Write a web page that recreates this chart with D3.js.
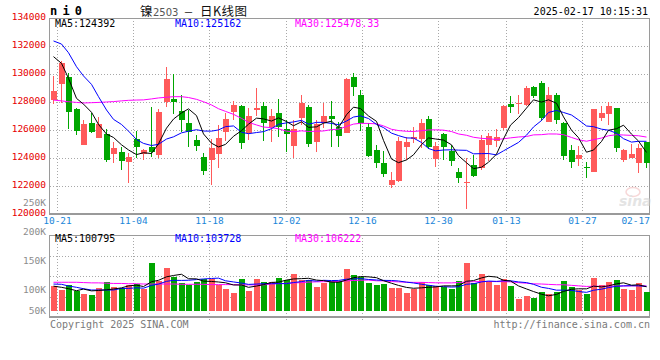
<!DOCTYPE html>
<html><head><meta charset="utf-8">
<script src="https://cdn.jsdelivr.net/npm/d3@7"></script>
<style>
body{margin:0;background:#fff}
svg{display:block}
text{font-family:"DejaVu Sans Mono",monospace}
</style>
</head><body>
<svg id="c" width="660" height="360"></svg>
<script>
// ---------------- data ----------------
const opens = [128119,129310,129786,127500,124952,126500,125452,125714,124309,124428,
123738,125357,124262,124809,124214,127976,128214,127381,126500,125286,
124048,123857,124286,125881,127309,127714,125762,127429,127690,126238,
127238,126071,124881,126881,127643,125167,126476,127000,126238,125810,
129810,128500,126238,124571,123667,122071,122357,124810,125400,125333,
126786,123952,125690,124524,123000,122190,123500,123262,124929,125214,
126119,127857,127833,127810,129071,129381,126595,128500,126524,124571,
123952,123381,123024,126857,127167,127571,123857,124024,123667,125119];
const highs = [129881,130929,130095,127550,126714,127190,126905,126071,125119,124809,
124333,125929,124643,127619,127524,130524,129976,128500,127400,125643,
124357,125333,126381,127200,128095,127762,127595,128976,128024,127500,
128214,126714,126714,128500,127786,126714,127952,128095,126595,129738,
130048,128857,126476,124929,124524,123024,125524,125524,126238,126786,
127024,125119,125762,124929,123262,123976,124214,125643,125810,126071,
127786,128429,128500,129143,129143,129524,129095,128619,126595,124929,
124881,123738,127524,127714,128024,127571,124643,125000,125000,125119];
const lows = [127881,127905,126048,125643,124900,125762,125400,123738,123619,123167,
122238,124024,123833,124095,124000,127667,127119,125881,124809,124524,
122786,122095,123300,125214,126700,124619,125286,127000,125238,125167,
125524,124428,124024,126357,124810,124452,126119,124810,124810,125762,
128452,125929,124100,123310,122643,121833,122310,123857,125048,124690,
124667,123381,123857,123429,122238,120357,122667,123119,123810,124810,
126000,127238,127119,127738,128300,126667,126595,126405,123857,123262,
123429,122595,123024,126643,126357,124405,123738,123976,122952,123262];
const closes = [128786,130786,127309,125929,126428,125881,126428,123881,124714,123810,
124048,124762,124548,124428,127286,129643,128000,126738,125881,124881,
123095,124690,125405,126786,127786,125095,127000,127571,126524,127000,
126238,125690,126071,127929,125024,126405,127000,126810,125595,129643,
129095,126524,124167,123667,122833,122429,125238,125143,125500,126476,
124810,124857,124762,123810,122595,122286,122738,125286,125572,125500,
127714,127667,127952,129000,128452,126881,128500,126714,124143,123690,
124214,123310,127476,127214,127714,124738,124571,124286,124738,123667];
const volumes = [102600,96200,104300,94500,88800,87100,99700,110000,101400,98600,
104300,106000,97900,142800,111200,134100,117600,108300,104300,110000,
114700,114700,103800,97400,91000,114700,94500,114700,110000,110000,
116900,112900,123800,112900,112900,101400,108300,111200,111200,131900,
121600,118600,108300,104300,106000,99700,99700,91000,96900,110000,
104300,102600,100300,96900,111200,142800,108300,123300,111200,104300,
114700,102600,80700,85300,81900,91700,88800,92800,111200,100300,
95700,88300,116400,104300,109500,112900,97400,95700,107800,92200];

const ma5Lead  = [131240,130760,129690,128260];
const ma10Lead = [132360,132140,131520,130520,129860,129260,128380,127430,126760];
const ma30Lead = [128140,128080,128020,127970,127930,127950,127970,128000,128030,128080,
128120,128140,128150,128220,128290,128340,128380,128380,128320,128190,
128020,127790,127520,127330,127120,126830,126550,126360,126210];
const vma5Lead  = [102300,100300,97900,94500];
const vma10Lead = [105900,105500,102600,100300,97900,95700,95700,95700,95700];
const vma30Lead = [109000,109000,109000,109000,108500,108000,108000,107500,107000,107000,
106500,106500,106000,106000,106000,106000,106000,105500,105500,105500,
105500,105000,105000,105000,105000,104500,104500,104500,104500];

const priceTicks = [120000,122000,124000,126000,128000,130000,132000,134000];
const volTicks = [50000,100000,150000,200000,250000];
const volTickLabels = ["50K","100K","150K","200K","250K"];
const dateLabels = ["10-21","11-04","11-18","12-02","12-16","12-30","01-13","01-27"];
const dateSlots  = [0.97,11.1,21.25,31.4,41.55,51.7,60.75,70.9];
const lastDateLabel = "02-17";
const priceMaLabels = ["MA5:124392","MA10:125162","MA30:125478.33"];
const volMaLabels = ["MA5:100795","MA10:103728","MA30:106222"];
const maColors = ["#000000","#0000ff","#ff00ff"];

// ---------------- layout ----------------
const L = 50, R = 650, mTop = 18, mBot = 214, vTop = 235, vBot = 317;
const RED = "#ff5a5a", GREEN = "#00a600", GRID = "#a8a8a8", AXIS = "#9a9a9a";
const svg = d3.select("#c");
const n = closes.length;
const x = d3.scaleLinear().domain([0, 80]).range([L, R]);
const y = d3.scaleLinear().domain([120000, 134000]).range([mBot, mTop]);
const yv = d3.scaleLinear().domain([60000, 200000]).range([310.7, 229.5]);
const bx = i => Math.round(x(i));

function ma(arr, k, lead) {
  return arr.map((v, i) => i < k - 1 ? lead[i] : d3.mean(arr.slice(i - k + 1, i + 1)));
}
const up = i => closes[i] >= opens[i];

// ---------------- grid ----------------
const g = svg.append("g").attr("shape-rendering", "crispEdges");
g.selectAll(".hp").data(priceTicks.slice(1, -1)).join("line")
  .attr("x1", L).attr("x2", R).attr("y1", d => Math.round(y(d)) + 0.5).attr("y2", d => Math.round(y(d)) + 0.5)
  .attr("stroke", GRID).attr("stroke-dasharray", "1,2");
g.selectAll(".vg1").data(dateSlots).join("line")
  .attr("x1", d => Math.round(x(d)) + 0.5).attr("x2", d => Math.round(x(d)) + 0.5)
  .attr("y1", mTop).attr("y2", mBot).attr("stroke", GRID).attr("stroke-dasharray", "1,2");
g.selectAll(".vg2").data(dateSlots).join("line")
  .attr("x1", d => Math.round(x(d)) + 0.5).attr("x2", d => Math.round(x(d)) + 0.5)
  .attr("y1", vTop).attr("y2", vBot + 5).attr("stroke", GRID).attr("stroke-dasharray", "1,2");
g.selectAll(".hv").data([1, 2, 3]).join("line")
  .attr("x1", L).attr("x2", R)
  .attr("y1", k => Math.round(vTop + k * (vBot - vTop) / 4) + 0.5)
  .attr("y2", k => Math.round(vTop + k * (vBot - vTop) / 4) + 0.5)
  .attr("stroke", GRID).attr("stroke-dasharray", "1,2");

[[mTop, mBot], [vTop, vBot]].forEach(([t, b]) => {
  g.append("line").attr("x1", L).attr("x2", R).attr("y1", t + 0.5).attr("y2", t + 0.5).attr("stroke", AXIS);
  g.append("line").attr("x1", R - 0.5).attr("x2", R - 0.5).attr("y1", t).attr("y2", b).attr("stroke", AXIS);
  g.append("line").attr("x1", L).attr("x2", R).attr("y1", b).attr("y2", b).attr("stroke", AXIS).attr("stroke-width", 2);
  g.append("line").attr("x1", L - 0.5).attr("x2", L - 0.5).attr("y1", t).attr("y2", b + 1).attr("stroke", AXIS).attr("stroke-width", 1.5);
});

// watermark
const wm = svg.append("g").attr("opacity", 0.55);
wm.append("ellipse").attr("cx", 633).attr("cy", 192).attr("rx", 7).attr("ry", 4.5)
  .attr("fill", "none").attr("stroke", "#f2b8b8").attr("stroke-width", 1.5);
wm.append("text").attr("x", 619).attr("y", 206)
  .attr("font-style", "italic").attr("font-weight", "bold").attr("font-size", 14)
  .attr("fill", "#cfcfcf").style("font-family", "'DejaVu Sans', sans-serif").text("sina");

// ---------------- candles ----------------
const idx = d3.range(n);
const cg = svg.append("g").attr("shape-rendering", "crispEdges");
cg.selectAll(".wick").data(idx).join("line")
  .attr("x1", i => bx(i) + 3.5).attr("x2", i => bx(i) + 3.5)
  .attr("y1", i => y(highs[i])).attr("y2", i => y(lows[i]))
  .attr("stroke", i => up(i) ? RED : GREEN);
cg.selectAll(".body").data(idx).join("rect")
  .attr("x", i => bx(i) + 0.5)
  .attr("width", 6)
  .attr("y", i => y(Math.max(opens[i], closes[i])))
  .attr("height", i => Math.max(1.5, y(Math.min(opens[i], closes[i])) - y(Math.max(opens[i], closes[i]))))
  .attr("fill", i => up(i) ? RED : GREEN);

// ---------------- volume bars ----------------
svg.append("g").attr("shape-rendering", "crispEdges")
  .selectAll("rect").data(idx).join("rect")
  .attr("x", i => bx(i) + 0.5)
  .attr("width", 6)
  .attr("y", i => yv(volumes[i]))
  .attr("height", i => yv(60000) - yv(volumes[i]))
  .attr("fill", i => up(i) ? RED : GREEN);

// ---------------- MA lines ----------------
const pMA = [ma(closes, 5, ma5Lead), ma(closes, 10, ma10Lead), ma(closes, 30, ma30Lead)];
const vMA = [ma(volumes, 5, vma5Lead), ma(volumes, 10, vma10Lead), ma(volumes, 30, vma30Lead)];
const lines = svg.append("g").attr("fill", "none").attr("stroke-width", 1);
[2, 1, 0].forEach(k => {
  lines.append("path").attr("stroke", maColors[k])
    .attr("d", d3.line().x(i => bx(i) + 3.5).y(i => y(pMA[k][i]))(idx));
  lines.append("path").attr("stroke", maColors[k])
    .attr("d", d3.line().x(i => bx(i) + 3.5).y(i => yv(vMA[k][i]))(idx));
});

// ---------------- texts ----------------
const T = svg.append("g");
T.selectAll(".pl").data(priceTicks).join("text")
  .attr("x", 46).attr("y", d => y(d) + 2.3).attr("text-anchor", "end")
  .attr("font-size", 9.5).attr("fill", "#e60000").text(d => d);
T.selectAll(".vl").data(volTicks).join("text")
  .attr("x", 46).attr("y", d => Math.min(yv(d) + 2, 310.5) + 3.4).attr("text-anchor", "end")
  .attr("font-size", 9.5).attr("fill", "#8c8c8c").text((d, i) => volTickLabels[i]);
T.selectAll(".dl").data(dateSlots).join("text")
  .attr("x", d => Math.round(x(d)) + 0.5).attr("y", 224.3).attr("text-anchor", "middle")
  .attr("font-size", 9.5).attr("fill", "#1a86d9").text((d, i) => dateLabels[i]);
T.append("text").attr("x", R).attr("y", 224.3).attr("text-anchor", "end")
  .attr("font-size", 9.5).attr("fill", "#1a86d9").text(lastDateLabel);
const legendX = [55, 175, 295];
priceMaLabels.forEach((s, k) => T.append("text").attr("x", legendX[k]).attr("y", 27)
  .attr("font-size", 10).attr("fill", maColors[k]).text(s));
volMaLabels.forEach((s, k) => T.append("text").attr("x", legendX[k]).attr("y", 242.3)
  .attr("font-size", 10).attr("fill", maColors[k]).text(s));
// header
T.append("text").attr("x", 50).attr("y", 15).attr("font-size", 12).attr("font-weight", "bold")
  .attr("fill", "#000").attr("textLength", 32).attr("lengthAdjust", "spacing").text("n i 0");
const cjk = "'Noto Sans CJK SC', sans-serif";
T.append("text").attr("x", 140).attr("y", 15.5).attr("font-size", 12.5).style("font-family", cjk)
  .attr("fill", "#111").text("镍");
T.append("text").attr("x", 153).attr("y", 15.5).attr("font-size", 10).style("font-family", "'DejaVu Sans', sans-serif")
  .attr("fill", "#555").text("2503");
T.append("text").attr("x", 188.5).attr("y", 15.5).attr("font-size", 10).attr("text-anchor", "middle")
  .style("font-family", cjk).attr("fill", "#111").text("－");
T.append("text").attr("x", 200).attr("y", 15.5).attr("font-size", 12.5).attr("letter-spacing", 0.5)
  .style("font-family", cjk).attr("fill", "#111").text("日K线图");
T.append("text").attr("x", 648).attr("y", 15).attr("text-anchor", "end").attr("font-size", 10)
  .attr("fill", "#000").text("2025-02-17 10:15:31");
// footer
T.append("text").attr("x", 50).attr("y", 327.5).attr("font-size", 10).attr("fill", "#7a7a7a")
  .text("Copyright 2025 SINA.COM");
T.append("text").attr("x", 650).attr("y", 327.5).attr("text-anchor", "end").attr("font-size", 10)
  .attr("fill", "#7a7a7a").text("http://finance.sina.com.cn");
</script>
</body></html>
